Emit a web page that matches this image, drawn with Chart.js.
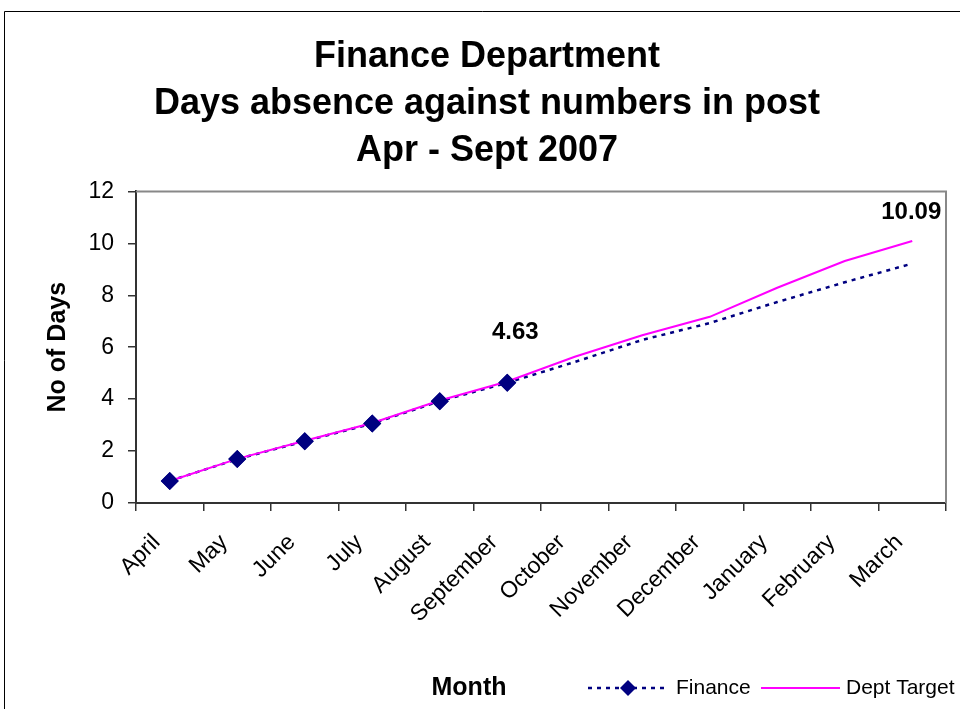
<!DOCTYPE html>
<html>
<head>
<meta charset="utf-8">
<title>Finance Department absence</title>
<script src="https://cdn.jsdelivr.net/npm/chart.js@4.4.1/dist/chart.umd.min.js"></script>
<style>
  html, body { margin: 0; padding: 0; background: #fff; }
  canvas { display: block; }
</style>
</head>
<body>
<canvas id="chart" width="960" height="709"></canvas>
<script>
// data
const months = ['April','May','June','July','August','September','October','November','December','January','February','March'];
const finance = [0.85, 1.69, 2.38, 3.06, 3.92, 4.63, 5.43, 6.28, 6.93, 7.74, 8.5, 9.22];
const deptTarget = [0.85, 1.7, 2.4, 3.08, 3.95, 4.68, 5.63, 6.46, 7.17, 8.29, 9.32, 10.09];
const actualMonths = 6; // Apr - Sept have markers
const yTicks = [0, 2, 4, 6, 8, 10, 12];
const titleLines = ['Finance Department', 'Days absence against numbers in post', 'Apr - Sept 2007'];

const FONT = '"Liberation Sans", Arial, sans-serif';
const NAVY = '#000080';
const PINK = '#ff00ff';

// frame, plot border, markers on top, value labels, legend and x title
const extras = {
  id: 'extras',
  beforeDatasetsDraw(chart) {
    const { ctx, chartArea: a } = chart;
    ctx.save();
    ctx.strokeStyle = '#888';
    ctx.lineWidth = 2;
    ctx.beginPath();
    ctx.moveTo(a.left, a.top);
    ctx.lineTo(a.right, a.top);
    ctx.lineTo(a.right, a.bottom);
    ctx.stroke();
    ctx.restore();
  },
  afterDatasetsDraw(chart) {
    const { ctx, chartArea: a } = chart;
    // redraw the finance diamonds above the target line
    const meta = chart.getDatasetMeta(0);
    meta.data.forEach((pt, i) => { if (i < actualMonths) pt.draw(ctx, a); });

    const x = chart.scales.x, y = chart.scales.y;
    ctx.save();
    ctx.fillStyle = '#000';
    ctx.font = 'bold 24px ' + FONT;
    ctx.textAlign = 'center';
    ctx.textBaseline = 'middle';
    const si = actualMonths - 1;
    ctx.fillText(finance[si].toFixed(2), x.getPixelForValue(si) + 8, y.getPixelForValue(finance[si]) - 50);
    const li = months.length - 1;
    ctx.fillText(deptTarget[li].toFixed(2), x.getPixelForValue(li) - 1, y.getPixelForValue(deptTarget[li]) - 29);
    ctx.restore();
  },
  afterDraw(chart) {
    const { ctx } = chart;
    ctx.save();
    // outer frame (runs off the right and bottom edges)
    ctx.strokeStyle = '#000';
    ctx.lineWidth = 1;
    ctx.beginPath();
    ctx.moveTo(4.5, 709);
    ctx.lineTo(4.5, 11.5);
    ctx.lineTo(960, 11.5);
    ctx.stroke();

    const ly = 688;
    ctx.fillStyle = '#000';
    ctx.textBaseline = 'middle';
    ctx.font = 'bold 25px ' + FONT;
    ctx.textAlign = 'center';
    ctx.fillText('Month', 469, ly);

    // legend
    const ds = chart.data.datasets;
    ctx.strokeStyle = NAVY;
    ctx.lineWidth = 2.5;
    ctx.setLineDash([4, 5]);
    ctx.beginPath();
    ctx.moveTo(588, ly); ctx.lineTo(666, ly);
    ctx.stroke();
    ctx.setLineDash([]);
    ctx.fillStyle = NAVY;
    ctx.beginPath();
    ctx.moveTo(628, ly - 8); ctx.lineTo(636, ly); ctx.lineTo(628, ly + 8); ctx.lineTo(620, ly);
    ctx.closePath();
    ctx.fill();
    ctx.strokeStyle = PINK;
    ctx.lineWidth = 2;
    ctx.beginPath();
    ctx.moveTo(761, ly); ctx.lineTo(840, ly);
    ctx.stroke();
    ctx.fillStyle = '#000';
    ctx.font = '21px ' + FONT;
    ctx.textAlign = 'left';
    ctx.fillText(ds[0].label, 676, ly);
    ctx.fillText(ds[1].label, 846, ly);
    ctx.restore();
  }
};

new Chart(document.getElementById('chart'), {
  type: 'line',
  data: {
    labels: months,
    datasets: [
      {
        label: 'Finance',
        data: finance,
        borderColor: NAVY,
        backgroundColor: NAVY,
        borderWidth: 2.5,
        borderDash: [4, 5],
        pointStyle: 'rectRot',
        pointRadius: months.map((m, i) => i < actualMonths ? 9 : 0),
        pointBorderWidth: 0,
        tension: 0,
        order: 2
      },
      {
        label: 'Dept Target',
        data: deptTarget,
        borderColor: PINK,
        backgroundColor: PINK,
        borderWidth: 2,
        pointRadius: 0,
        tension: 0,
        order: 1
      }
    ]
  },
  options: {
    responsive: false,
    animation: false,
    layout: { padding: { top: 0, right: 14, bottom: 0, left: 28 } },
    plugins: {
      legend: { display: false },
      tooltip: { enabled: false },
      title: {
        display: true,
        text: titleLines,
        color: '#000',
        font: { family: FONT, size: 36, weight: 'bold', lineHeight: 1.3 },
        padding: { top: 34, bottom: 17 }
      }
    },
    scales: {
      x: {
        offset: true,
        afterFit: (s) => { s.height = 206; },
        grid: { offset: true, drawOnChartArea: false, drawTicks: true, tickLength: 8, color: '#333', lineWidth: 1.5 },
        border: { display: true, color: '#333', width: 2 },
        ticks: {
          autoSkip: false, minRotation: 45, maxRotation: 45, padding: 18, labelOffset: -13,
          color: '#000', font: { family: FONT, size: 23 }
        }
      },
      y: {
        min: 0, max: 12,
        afterFit: (s) => { s.width = 108; },
        afterBuildTicks: (s) => { s.ticks = yTicks.map(v => ({ value: v })); },
        grid: { drawOnChartArea: false, drawTicks: true, tickLength: 8, color: '#333', lineWidth: 1.5 },
        border: { display: true, color: '#333', width: 2 },
        ticks: { padding: 14, color: '#000', font: { family: FONT, size: 23 } },
        title: {
          display: true, text: 'No of Days', color: '#000',
          font: { family: FONT, size: 25, weight: 'bold', lineHeight: 1.2 },
          padding: { top: 15, bottom: 0 }
        }
      }
    }
  },
  plugins: [extras]
});
</script>
</body>
</html>
